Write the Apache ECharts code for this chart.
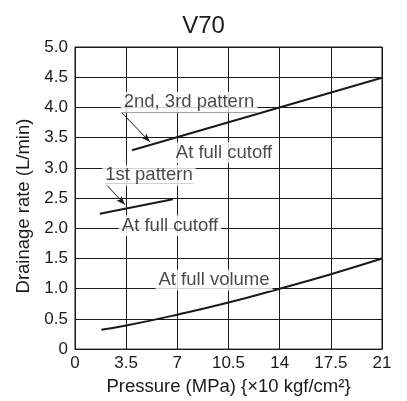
<!DOCTYPE html>
<html>
<head>
<meta charset="utf-8">
<script src="https://cdn.jsdelivr.net/npm/echarts@6/dist/echarts.min.js"></script>
<style>
  html, body { margin: 0; padding: 0; background: #fff; }
  #chart { width: 407px; height: 401px; }
</style>
</head>
<body>
<div id="chart"></div>
<script>
// pattern lines (x = MPa, y = L/min)
const pattern23 = [[3.9, 3.29], [21, 4.49]];
const pattern1 = [[1.7, 2.24], [6.7, 2.48]];
const fullVolume = [[1.8, 0.32], [3.5, 0.39], [7, 0.57], [10.5, 0.77], [14, 1.0], [17.5, 1.24], [21, 1.5]];

// annotation texts and where they sit
const noteText = ['2nd, 3rd pattern', 'At full cutoff', '1st pattern', 'At full cutoff', 'At full volume'];
const noteX = [7.8, 10.19, 5.06, 6.5, 9.51];
const noteY = [4.085, 3.25, 2.876, 2.04, 1.144];

// underline under a label, then the arrow going to the line
const underlines = [[[3.19, 3.917], [12.43, 3.917]], [[2.05, 2.745], [8.09, 2.745]]];
const arrows = [[[3.19, 3.917], [5.13, 3.427]], [[2.05, 2.745], [3.42, 2.39]]];

const font = '"Liberation Sans", Arial, sans-serif';
const ink = '#1a1a1a';

let myChart = echarts.init(document.getElementById('chart'));

let markData = [];
underlines.forEach(function (u) {
    markData.push([{ coord: u[0], symbol: 'none' }, { coord: u[1], symbol: 'none' }]);
});
arrows.forEach(function (a) {
    markData.push([{ coord: a[0], symbol: 'none' }, { coord: a[1], symbol: 'arrow', symbolSize: [5, 9] }]);
});

let option = {
    animation: false,
    title: {
        text: 'V70',
        left: 'center',
        top: 9,
        textStyle: { fontFamily: font, fontSize: 24, fontWeight: 'normal', color: ink }
    },
    grid: { left: 75, right: 25, top: 47, bottom: 48, show: true, borderColor: ink, borderWidth: 1 },
    xAxis: {
        type: 'value', min: 0, max: 21, interval: 3.5,
        name: 'Pressure (MPa) {×10 kgf/cm²}',
        nameLocation: 'middle', nameGap: 25,
        nameTextStyle: { fontFamily: font, fontSize: 18.5, color: ink },
        axisLine: { lineStyle: { color: ink, width: 1 } },
        axisTick: { show: false },
        axisLabel: { margin: 6, fontFamily: font, fontSize: 17, color: ink },
        splitLine: { show: true, lineStyle: { color: ink, width: 1 } }
    },
    yAxis: {
        type: 'value', min: 0, max: 5, interval: 0.5,
        name: 'Drainage rate (L/min)',
        nameLocation: 'middle', nameGap: 39,
        nameTextStyle: { fontFamily: font, fontSize: 18.5, color: ink, padding: [0, 16, 0, 0] },
        axisLine: { show: true, lineStyle: { color: ink, width: 1 } },
        axisTick: { show: false },
        axisLabel: {
            margin: 7, fontFamily: font, fontSize: 17, color: ink,
            formatter: function (v) { return v === 0 ? '0' : v.toFixed(1); }
        },
        splitLine: { show: true, lineStyle: { color: ink, width: 1 } }
    },
    series: [
        {
            type: 'line', data: pattern23, symbol: 'none',
            lineStyle: { color: ink, width: 2 }
        },
        {
            type: 'line', data: pattern1, symbol: 'none',
            lineStyle: { color: ink, width: 2 }
        },
        {
            type: 'line', data: fullVolume, symbol: 'none', smooth: true,
            lineStyle: { color: ink, width: 2 }
        },
        {
            type: 'scatter', symbolSize: 0, z: 5,
            data: noteText.map(function (t, i) { return [noteX[i], noteY[i], t]; }),
            label: {
                show: true, position: 'inside',
                formatter: function (p) { return p.data[2]; },
                fontFamily: font, fontSize: 18.5, color: ink,
                backgroundColor: '#fff', padding: [1, 3]
            },
            markLine: {
                silent: true, animation: false,
                symbol: 'none',
                label: { show: false },
                lineStyle: { color: ink, width: 1, type: 'solid' },
                data: markData
            }
        }
    ]
};

myChart.setOption(option);
</script>
</body>
</html>
